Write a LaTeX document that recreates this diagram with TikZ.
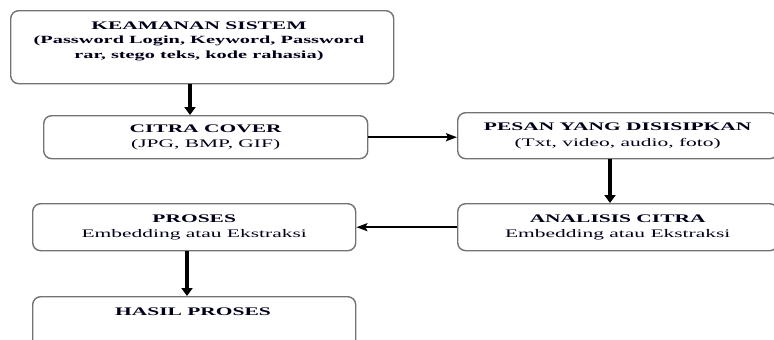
\documentclass[tikz,border=0pt]{standalone}
\usepackage{fontspec}
\setmainfont{Liberation Serif}[FakeStretch=1.85]
\usetikzlibrary{arrows.meta}
\begin{document}
\begin{tikzpicture}[x=1pt,y=-1pt,
  box/.style={draw=black!55, line width=1.4pt, rounded corners=8pt, anchor=north west, inner sep=0pt, align=center, font=\fontsize{11.6}{15.5}\selectfont, text=black!90!blue},
  ttl/.style={font=\fontsize{11.6}{14.5}\selectfont\bfseries, text=black!90!blue, align=center, inner sep=0pt},
  varrow/.style={line width=3.6pt, -{Triangle[length=8pt,width=11pt]}},
  harrow/.style={line width=2pt, -{Stealth[length=11pt,width=8pt,inset=2pt]}}]
\useasboundingbox (0,0) rectangle (774,340);
\clip (0,0) rectangle (774,340);
\node[box, minimum width=383pt, minimum height=73pt] (keamanan) at (10,10) {};
\node[ttl] (keamanantxt) at (199,41) {KEAMANAN SISTEM\\{\fontsize{11}{14.5}\selectfont (Password Login, Keyword, Password}\\{\fontsize{11}{14.5}\selectfont rar, stego teks, kode rahasia)}};
\node[box, minimum width=324pt, minimum height=43pt] (citra) at (43,115) {\textbf{CITRA COVER}\\(JPG, BMP, GIF)};
\node[box, minimum width=320pt, minimum height=46pt] (pesan) at (457,112) {\textbf{PESAN YANG DISISIPKAN}\\(Txt, video, audio, foto)};
\node[box, minimum width=320pt, minimum height=47pt] (analisis) at (457,203) {\textbf{ANALISIS CITRA}\\Embedding atau Ekstraksi};
\node[box, minimum width=323pt, minimum height=47pt] (proses) at (32,203) {\textbf{PROSES}\\Embedding atau Ekstraksi};
\node[box, minimum width=323pt, minimum height=60pt] (hasil) at (32,296) {};
\node[ttl] (hasiltxt) at (193,312) {HASIL PROSES};
\coordinate (a1) at (190,0);
\coordinate (a2) at (610,0);
\coordinate (a3) at (187,0);
\draw[varrow] (a1 |- keamanan.south) -- (a1 |- citra.north);
\draw[harrow] (citra.east) -- (pesan.west |- citra.east);
\draw[varrow] (a2 |- pesan.south) -- (a2 |- analisis.north);
\draw[harrow] (analisis.west) -- (proses.east |- analisis.west);
\draw[varrow] (a3 |- proses.south) -- (a3 |- hasil.north);
\end{tikzpicture}
\end{document}
